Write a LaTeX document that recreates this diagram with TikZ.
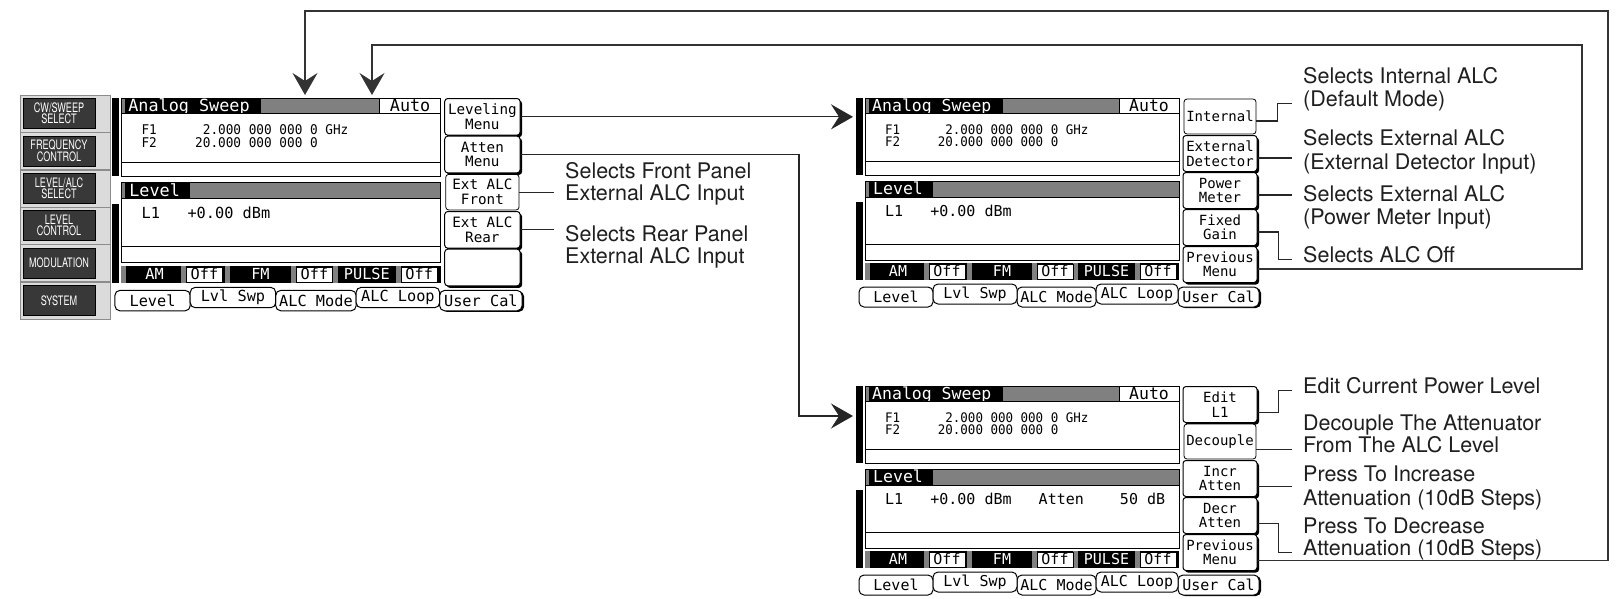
\documentclass[tikz,border=0pt]{standalone}
\usepackage{fontspec}
\usetikzlibrary{arrows.meta,shadows,calc}
\newfontfamily\lcdfont{DejaVu Sans Mono}
\newfontfamily\labfont{TeX Gyre Heros}

\tikzset{
 lcdline/.style={draw=black, line width=0.9pt},
 dither/.style={fill=black!50},
 lcdtitle/.style={font=\lcdfont\fontsize{16.5}{16.5}\selectfont, text=white, inner sep=0pt, anchor=base west},
 lcdfreq/.style={font=\lcdfont\fontsize{12.5}{12.5}\selectfont, inner sep=0pt, anchor=base west, yscale=1.05},
 lcdl1/.style={font=\lcdfont\fontsize{15}{15}\selectfont, inner sep=0pt, anchor=base west},
 lcdstat/.style={font=\lcdfont\fontsize{15}{15}\selectfont, inner sep=0pt, anchor=base},
 tabk/.style={draw=black, line width=1pt, rounded corners=5pt, fill=white, minimum height=20pt, inner sep=0pt, font=\lcdfont\fontsize{15}{15}\selectfont},
 softkey/.style={draw=black, line width=1pt, rounded corners=3pt, fill=white, minimum width=74pt, minimum height=36pt, align=center, inner sep=0pt, font=\lcdfont\fontsize{14}{14.5}\selectfont, drop shadow={shadow xshift=2pt, shadow yshift=-2pt, opacity=1, fill=black}},
 selkey/.style={draw=black, line width=0.8pt, rounded corners=3pt, fill=white, minimum width=72pt, minimum height=35pt, align=center, inner sep=0pt, font=\lcdfont\fontsize{14}{14.5}\selectfont},
 hwslot/.style={fill=black!14, draw=black!45, line width=0.6pt},
 hwkey/.style={fill=black!78, draw=black, line width=0.8pt, text=white, align=center, inner sep=0pt, minimum width=103pt, minimum height=30pt, xscale=0.7, font=\labfont\fontsize{13}{9.5}\selectfont},
 conn/.style={draw=black!85, line width=1.2pt},
 loopline/.style={draw=black!80, line width=1.4pt},
 bigarrow/.style={-{Stealth[length=22pt,width=25pt,inset=8pt]}},
 lbl/.style={font=\labfont\fontsize{21.5}{23}\selectfont, text=black!88, anchor=base west, inner sep=0pt},
}

\newcommand\lcdscreen[2]{%
 \fill[black] (-9,0) rectangle (-2,77);
 \fill[black] (-9,104) rectangle (-2,182);
 % title bar
 \fill[black] (0,0) rectangle (138,15.5);
 \fill[dither] (0,0) rectangle (4,15.5);
 \fill[dither] (138,0) rectangle (254,15.5);
 \draw[lcdline] (0,0) rectangle (314,15.5);
 \draw[lcdline, fill=white] (254,0) rectangle (314,15.5);
 \node[lcdtitle] (#1-title) at (7,13) {Analog Sweep};
 \node[lcdtitle, text=black, anchor=base] (#1-auto) at (284,13) {Auto};
 % frequency box
 \draw[lcdline, fill=white] (0,15.5) rectangle (314,63);
 \draw[lcdline, fill=white] (0,63) rectangle (314,77);
 \node[lcdfreq] (#1-f1) at (20,36) {F1~~~~~~2.000 000 000 0 GHz};
 \node[lcdfreq] (#1-f2) at (20,48.5) {F2~~~~~20.000 000 000 0};
 % level bar
 \fill[black] (0,83) rectangle (68,99);
 \fill[dither] (0,83) rectangle (4,99);
 \fill[dither] (68,83) rectangle (314,99);
 \draw[lcdline] (0,83) rectangle (314,99);
 \node[lcdtitle] (#1-lvl) at (8,96.5) {Level};
 \draw[lcdline, fill=white] (0,99) rectangle (314,146);
 \draw[lcdline, fill=white] (0,146) rectangle (314,162);
 \node[lcdl1] (#1-l1) at (20,118) {#2};
 % status bar
 \fill[black] (0,165) rectangle (314,182);
 \fill[dither] (0,165) rectangle (5,182);
 \fill[dither] (102,165) rectangle (107,182);
 \fill[dither] (208,165) rectangle (213,182);
 \fill[dither] (59,165) rectangle (64,182);
 \fill[dither] (167,165) rectangle (172,182);
 \fill[dither] (270,165) rectangle (275,182);
 \draw[lcdline, fill=white] (64,166) rectangle (100,181);
 \draw[lcdline, fill=white] (172,166) rectangle (208,181);
 \draw[lcdline, fill=white] (275,166) rectangle (311,181);
 \node[lcdstat, text=white] (#1-am) at (33,178.5) {AM};
 \node[lcdstat] (#1-offa) at (82,178.5) {Off};
 \node[lcdstat, text=white] (#1-fm) at (137,178.5) {FM};
 \node[lcdstat] (#1-offb) at (190,178.5) {Off};
 \node[lcdstat, text=white] (#1-pulse) at (241.5,178.5) {PULSE};
 \node[lcdstat] (#1-offc) at (293,178.5) {Off};
 % tabs
 \node[tabk, minimum width=74pt] (#1-tab1) at (31,199) {Level};
 \node[tabk, minimum width=79pt] (#1-tab3) at (191.5,199) {ALC Mode};
 \node[tabk, minimum width=81pt, drop shadow={shadow xshift=2pt, shadow yshift=-1pt, opacity=1, fill=black}] (#1-tab5) at (353.5,199) {User Cal};
 \node[tabk, minimum width=84pt] (#1-tab2) at (110,196) {Lvl Swp};
 \node[tabk, minimum width=82pt] (#1-tab4) at (272,196) {ALC Loop};
}

\newcommand\hwbtn[3]{%
 \fill[hwslot] (20,#2) rectangle (110,#2+37);
 \node[hwkey] (#1) at (59,#2+18.5) {#3};
}

\begin{document}
\begin{tikzpicture}[x=1pt,y=-1pt]
\fill[white] (0,0) rectangle (1617,598);
\useasboundingbox (0,0) rectangle (1617,598);

% hardware buttons
\hwbtn{hw1}{95}{CW/SWEEP\\SELECT}
\hwbtn{hw2}{132.4}{FREQUENCY\\CONTROL}
\hwbtn{hw3}{169.8}{LEVEL/ALC\\SELECT}
\hwbtn{hw4}{207.2}{LEVEL\\CONTROL}
\hwbtn{hw5}{244.6}{MODULATION}
\hwbtn{hw6}{282}{SYSTEM}

% left panel
\begin{scope}[shift={(121,98)}, scale=1.018, transform shape]
 \lcdscreen{l}{L1~~~+0.00 dBm}
 \node[softkey] (l-k1) at (355,18.5) {Leveling\\Menu};
 \node[softkey] (l-k2) at (355,55.5) {Atten\\Menu};
 \node[selkey] (l-k3) at (355,92.5) {Ext ALC\\Front};
 \node[softkey] (l-k4) at (355,129.5) {Ext ALC\\Rear};
 \node[softkey] (l-k5) at (355,166.5) {};
\end{scope}

% top right panel
\begin{scope}[shift={(865,98)}]
 \lcdscreen{t}{L1~~~+0.00 dBm}
 \node[selkey] (t-k1) at (355,18.5) {Internal};
 \node[softkey] (t-k2) at (355,55.5) {External\\Detector};
 \node[softkey] (t-k3) at (355,92.5) {Power\\Meter};
 \node[softkey] (t-k4) at (355,129.5) {Fixed\\Gain};
 \node[softkey] (t-k5) at (355,166.5) {Previous\\Menu};
\end{scope}

% bottom right panel
\begin{scope}[shift={(865,386)}]
 \lcdscreen{b}{L1~~~+0.00 dBm~~~Atten~~~~50 dB}
 \node[softkey] (b-k1) at (355,18.5) {Edit\\L1};
 \node[selkey] (b-k2) at (355,55.5) {Decouple};
 \node[softkey] (b-k3) at (355,92.5) {Incr\\Atten};
 \node[softkey] (b-k4) at (355,129.5) {Decr\\Atten};
 \node[softkey] (b-k5) at (355,166.5) {Previous\\Menu};
\end{scope}

% labels left
\node[lbl] (lf1) at (565,178) {Selects Front Panel};
\node[lbl] (lf2) at (565,200) {External ALC Input};
\node[lbl] (lr1) at (565,241) {Selects Rear Panel};
\node[lbl] (lr2) at (565,263) {External ALC Input};

% labels top right
\node[lbl] (ti1) at (1303,83) {Selects Internal ALC};
\node[lbl] (ti2) at (1303,106) {(Default Mode)};
\node[lbl] (te1) at (1303,145) {Selects External ALC};
\node[lbl] (te2) at (1303,169) {(External Detector Input)};
\node[lbl] (tp1) at (1303,201) {Selects External ALC};
\node[lbl] (tp2) at (1303,224) {(Power Meter Input)};
\node[lbl] (toff) at (1303,262) {Selects ALC Off};

% labels bottom right
\node[lbl] (be1) at (1303,393) {Edit Current Power Level};
\node[lbl] (bd1) at (1303,430) {Decouple The Attenuator};
\node[lbl] (bd2) at (1303,452) {From The ALC Level};
\node[lbl] (bi1) at (1303,481) {Press To Increase};
\node[lbl] (bi2) at (1303,505) {Attenuation (10dB Steps)};
\node[lbl] (bdc1) at (1303,533) {Press To Decrease};
\node[lbl] (bdc2) at (1303,555) {Attenuation (10dB Steps)};

% coordinates
\coordinate (tin) at (853,118);
\coordinate (bin) at (853,416);
\coordinate (inA) at (305,95);
\coordinate (inB) at (372,95);

% left connectors
\draw[conn,bigarrow] (l-k1.east) -- (l-k1.east -| tin);
\draw[conn,bigarrow] (l-k2.east) -| ($(bin)+(-54,0)$) -- (bin);
\draw[conn, shorten >=11pt] (l-k3.east) -- (l-k3.east -| lf2.west);
\draw[conn, shorten >=11pt] (l-k4.east) -- (l-k4.east -| lr1.west);

% top right connectors
\coordinate (ts1) at ([yshift=-4.5pt]t-k1.east);
\coordinate (ts2) at ([yshift=-4.5pt]t-k2.east);
\coordinate (ts3) at ([yshift=-4.5pt]t-k3.east);
\coordinate (ts4) at ([yshift=-4.5pt]t-k4.east);
\coordinate (ts5) at ([yshift=-4.5pt]t-k5.east);
\draw[conn] (ts1) -- ++(21,0) |- ([xshift=-11pt]ti2.mid west);
\draw[conn, shorten >=11pt] (ts2) -- (ts2 -| te1.west);
\draw[conn, shorten >=11pt] (ts3) -- (ts3 -| tp1.west);
\draw[conn] (ts4) -- ++(21,0) |- ([xshift=-11pt]toff.mid west);
\draw[loopline,bigarrow] (ts5) -| (1582,45) -| (inB);

% bottom right connectors
\coordinate (bs1) at ([yshift=-8pt]b-k1.east);
\coordinate (bs2) at ([yshift=-8pt]b-k2.east);
\coordinate (bs3) at ([yshift=-8pt]b-k3.east);
\coordinate (bs4) at ([yshift=-8pt]b-k4.east);
\coordinate (bs5) at ([yshift=-8pt]b-k5.east);
\draw[conn] (bs1) -- ++(21,0) |- ([xshift=-11pt]be1.mid west);
\draw[conn, shorten >=11pt] (bs2) -- (bs2 -| bd2.west);
\draw[conn, shorten >=11pt] (bs3) -- (bs3 -| bi1.west);
\draw[conn] (bs4) -- ++(21,0) |- ([xshift=-11pt]bdc2.mid west);
\draw[loopline,bigarrow] (bs5) -| (1608,11) -| (inA);
\end{tikzpicture}
\end{document}
